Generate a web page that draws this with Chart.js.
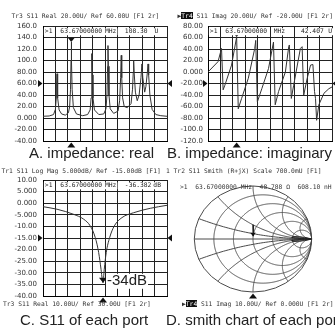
<!DOCTYPE html>
<html><head><meta charset="utf-8">
<script src="https://cdn.jsdelivr.net/npm/chart.js"></script>
<style>
html,body{margin:0;padding:0;background:#fff;width:335px;height:328px;overflow:hidden;position:relative;}
canvas{position:absolute;}
.t{position:absolute;white-space:pre;font-family:"DejaVu Sans Mono",monospace;font-size:6.3px;color:#333;line-height:1;}
.cap{position:absolute;white-space:nowrap;font-family:"Liberation Sans",Arial,sans-serif;font-size:15px;color:#222;line-height:1;}
.hl{background:#111;color:#fff;}
</style></head><body>
<canvas id="cA" width="172" height="150" style="left:0;top:0"></canvas>
<canvas id="cB" width="170" height="150" style="left:165px;top:0"></canvas>
<canvas id="cC" width="172" height="145" style="left:0;top:160px"></canvas>
<canvas id="cD" width="170" height="145" style="left:165px;top:160px"></canvas>

<div class="t" style="left:11.5px;top:12.5px">Tr3 S11 Real 20.00U/ Ref 60.00U [F1 2r]</div>
<div class="t" style="left:177.5px;top:12.5px">▶<span class="hl">Tr4</span> S11 Imag 20.00U/ Ref -20.00U [F1 2r]</div>
<div class="t" style="left:1.5px;top:167.5px">Tr1 S11 Log Mag 5.000dB/ Ref -15.00dB [F1]</div>
<div class="t" style="left:166px;top:167.5px">1 Tr2 S11 Smith (R+jX) Scale 700.0mU [F1]</div>
<div class="t" style="left:180px;top:183.5px">&gt;1  63.67000000 MHz  48.788 Ω  608.10 nH</div>
<div class="t" style="left:3px;top:300.5px">Tr3 S11 Real 10.00U/ Ref 30.00U [F1 2r]</div>
<div class="t" style="left:182px;top:300.5px">▶<span class="hl">Tr4</span> S11 Imag 10.00U/ Ref 0.000U [F1 2r]</div>

<div class="cap" style="left:29px;top:144.6px">A. impedance: real</div>
<div class="cap" style="left:167px;top:144.6px">B. impedance: imaginary</div>
<div class="cap" style="left:20px;top:312.3px">C. S11 of each port</div>
<div class="cap" style="left:166px;top:312.3px">D. smith chart of each port</div>

<script>
// ---------- data ----------
const aFreq = [0,0.5,0.85,1.0,1.07,1.1,1.13,1.16,1.2,1.3,1.5,1.8,2.05,2.15,2.22,2.26,2.28,2.31,2.35,2.45,2.7,3.2,3.6,3.8,3.88,3.92,3.95,3.98,4.03,4.15,4.5,4.9,5.08,5.16,5.21,5.24,5.27,5.32,5.42,5.7,6.05,6.18,6.26,6.31,6.35,6.42,6.55,6.8,7.1,7.22,7.28,7.31,7.35,7.45,7.6,7.75,7.9,7.98,8.05,8.2,8.3,8.42,8.47,8.52,8.62,8.8,9.1,9.5,10];
const aReal = [3,3.5,6,15,35,60,77,60,35,14,7,5,9,20,50,100,132,100,50,18,7,4,6,14,35,75,112,75,35,14,6,7,16,40,90,126,90,40,16,8,12,30,70,109,70,35,20,18,25,50,80,100,80,45,30,40,70,94,70,45,55,80,94,75,40,15,6,4,3];
const aTicks = ['-40.00','-20.00','0.000','20.00','40.00','60.00','80.00','100.0','120.0','140.0','160.0'];

const bFreq = [0,0.81,1.09,1.22,1.36,1.9,2.31,2.44,2.71,3.25,3.77,3.85,3.98,4.34,4.88,5.28,5.42,5.69,6.24,6.51,6.56,6.72,6.91,7.45,7.59,7.72,8.0,8.27,8.46,8.59,8.67,8.76,8.94,9.35,9.75,10];
const bImag = [0,18,41,-31,-23,12,61,-64,-46,-11,41,55,-52,-29,6,52,-57,-34,0,44,47,-46,-23,41,44,-40,-11,12,13,-34,-46,-84,-57,-37,-29,-26];
const bTicks = ['-120.0','-100.0','-80.00','-60.00','-40.00','-20.00','0.000','20.00','40.00','60.00','80.00'];

const cFreq = [0,1.13,2.47,3.28,3.81,4.22,4.49,4.68,4.78,4.84,4.94,5.1,5.37,5.75,6.37,7.31,8.65,10];
const cLogMag = [-1.5,-2.6,-4.8,-6.9,-9.8,-14.9,-21.3,-28.5,-32.8,-34.3,-28.5,-21.3,-14.9,-9.8,-6.2,-4.1,-2.2,-0.9];
const cTicks = ['-40.00','-35.00','-30.00','-25.00','-20.00','-15.00','-10.00','-5.000','0.000','5.000','10.00'];

const dRe = [1.0,0.88,0.7,0.66,0.8,0.97,0.8,0.66,0.7,0.88,1.0];
const dIm = [0,0.03,0.045,0.03,0.012,0,-0.012,-0.03,-0.045,-0.03,0];
const dMarkRe = [0,0.01,0];
const dMarkIm = [0.27,0.15,0.05];
const smithR = [0.2,0.5,1,2,5];
const smithX = [0.2,0.5,1,2,5];

// ---------- helpers ----------
const GRID = '#222';
const TRACE = '#333';
function pts(xs, ys){ return xs.map((x,i)=>({x:x, y:ys[i]})); }
function tri(ctx,x,y,dir,s){
  ctx.beginPath();
  if(dir==='right'){ctx.moveTo(x,y);ctx.lineTo(x-s,y-s*0.8);ctx.lineTo(x-s,y+s*0.8);}
  else if(dir==='left'){ctx.moveTo(x,y);ctx.lineTo(x+s,y-s*0.8);ctx.lineTo(x+s,y+s*0.8);}
  else if(dir==='up'){ctx.moveTo(x,y);ctx.lineTo(x-s*0.8,y+s);ctx.lineTo(x+s*0.8,y+s);}
  else {ctx.moveTo(x,y);ctx.lineTo(x-s*0.8,y-s);ctx.lineTo(x+s*0.8,y-s);}
  ctx.closePath(); ctx.fill();
}
function makeDeco(cfg){
  return {id:'deco', afterDatasetsDraw(chart){
    const ctx=chart.ctx, ca=chart.chartArea, x=chart.scales.x, y=chart.scales.y;
    ctx.save(); ctx.fillStyle='#111';
    if(cfg.ref!==undefined){const py=y.getPixelForValue(cfg.ref); tri(ctx,ca.left-0.5,py,'right',4.5); tri(ctx,ca.right+0.5,py,'left',4.5);}
    if(cfg.mark!==undefined){const px=x.getPixelForValue(cfg.mark); tri(ctx,px,ca.bottom+1.5,'up',5);}
    if(cfg.peak){const px=x.getPixelForValue(cfg.peak[0]), py=y.getPixelForValue(cfg.peak[1]); tri(ctx,px,py,'down',4);}
    if(cfg.box){
      const rowY=ca.top+(ca.bottom-ca.top)/20;
      ctx.font='6.3px "DejaVu Sans Mono"'; ctx.textBaseline='middle';
      cfg.box.forEach(b=>{const px=x.getPixelForValue(b.x); const w=ctx.measureText(b.t).width;
        ctx.fillStyle='#fff'; ctx.fillRect(px-1,rowY-3.5,w+2,7);
        ctx.fillStyle='#222'; ctx.fillText(b.t,px,rowY);});
    }
    if(cfg.note){
      const px=x.getPixelForValue(cfg.note.x), py=y.getPixelForValue(cfg.note.y);
      ctx.fillStyle='#111'; tri(ctx,px,py,'down',5);
      ctx.font='15px "Liberation Sans", Arial, sans-serif'; ctx.textBaseline='middle';
      const w=ctx.measureText(cfg.note.t).width;
      ctx.fillStyle='#fff'; ctx.fillRect(px+3,py-9,w+2,15);
      ctx.fillStyle='#222'; ctx.fillText(cfg.note.t,px+4,py-2);
    }
    ctx.restore();
  }};
}
function rectChart(id, xs, ys, yMin, yMax, step, labels, pad, yPad, cfg, mono){
  return new Chart(document.getElementById(id),{
    type:'line',
    data:{datasets:[{data:pts(xs,ys),borderColor:TRACE,borderWidth:1,pointRadius:0,tension:0,fill:false,
      cubicInterpolationMode: mono?'monotone':'default'}]},
    options:{responsive:false,animation:false,devicePixelRatio:1,
      layout:{padding:pad},
      plugins:{legend:{display:false},tooltip:{enabled:false}},
      scales:{
        x:{type:'linear',min:0,max:10,ticks:{display:false,stepSize:1},
           grid:{color:GRID,lineWidth:1,drawTicks:false},border:{color:'#000',width:1},
           afterFit(s){s.height=0;s.paddingLeft=0;s.paddingRight=0;}},
        y:{type:'linear',min:yMin,max:yMax,
           ticks:{stepSize:step,padding:yPad,color:'#333',font:{family:'DejaVu Sans',size:7},callback:(v,i)=>labels[i]},
           grid:{color:GRID,lineWidth:1,drawTicks:false},border:{color:'#000',width:1},
           afterFit(s){s.width=43;s.paddingTop=0;s.paddingBottom=0;}}
      }},
    plugins:[makeDeco(cfg)]
  });
}

rectChart('cA', aFreq, aReal, -40, 160, 20, aTicks, {left:0,top:26,right:5,bottom:9}, 6,
  {ref:60, mark:2.28, peak:[2.28,132], box:[{x:0.15,t:'>1'},{x:1.4,t:'63.67000000'},{x:5.0,t:'MHz'},{x:6.6,t:'108.30'},{x:9.0,t:'U'}]});
rectChart('cB', bFreq, bImag, -120, 80, 20, bTicks, {left:0,top:26,right:3,bottom:9}, 5,
  {ref:-20, mark:2.31, peak:[2.31,61], box:[{x:0.15,t:'>1'},{x:1.4,t:'63.67000000'},{x:5.3,t:'MHz'},{x:7.5,t:'42.407'},{x:9.7,t:'U'}]});
rectChart('cC', cFreq, cLogMag, -40, 10, 5, cTicks, {left:0,top:20,right:5,bottom:9}, 6,
  {ref:-15, mark:4.84, note:{x:4.84,y:-34.3,t:'-34dB'}, box:[{x:0.15,t:'>1'},{x:1.4,t:'63.67000000'},{x:5.0,t:'MHz'},{x:6.6,t:'-36.382'},{x:8.9,t:'dB'}]}, true);

// Smith chart
const smithPlugin = {id:'smith',
  beforeDatasetsDraw(chart){
    const ctx=chart.ctx, x=chart.scales.x, y=chart.scales.y;
    const P=(u,v)=>[x.getPixelForValue(u),y.getPixelForValue(v)];
    const cx=x.getPixelForValue(0), cy=y.getPixelForValue(0);
    const rx=x.getPixelForValue(1)-cx, ry=cy-y.getPixelForValue(1);
    ctx.save(); ctx.strokeStyle='#4a4a4a'; ctx.lineWidth=1;
    ctx.beginPath(); ctx.ellipse(cx,cy,rx,ry,0,0,2*Math.PI); ctx.stroke();
    ctx.clip();
    function circ(u0,v0,r){ctx.beginPath();const n=720;for(let k=0;k<=n;k++){const a=k/n*2*Math.PI;const p=P(u0+r*Math.cos(a),v0+r*Math.sin(a));k?ctx.lineTo(p[0],p[1]):ctx.moveTo(p[0],p[1]);}ctx.stroke();}
    smithR.forEach(r=>circ(r/(1+r),0,1/(1+r)));
    smithX.forEach(v=>{circ(1,1/v,1/v);circ(1,-1/v,1/v);});
    ctx.beginPath(); const l=P(-1,0), rr=P(1,0); ctx.moveTo(l[0],l[1]); ctx.lineTo(rr[0],rr[1]); ctx.stroke();
    ctx.restore();
  },
  afterDatasetsDraw(chart){
    const ctx=chart.ctx, x=chart.scales.x, y=chart.scales.y;
    ctx.save(); ctx.fillStyle='#111';
    tri(ctx,x.getPixelForValue(0),y.getPixelForValue(-1)+1.5,'up',5);
    tri(ctx,x.getPixelForValue(dMarkRe[2]),y.getPixelForValue(dMarkIm[2]),'down',3.5);
    ctx.restore();
  }};
new Chart(document.getElementById('cD'),{
  type:'line',
  data:{datasets:[
    {data:pts(dRe,dIm),borderColor:'#222',borderWidth:1,pointRadius:0,tension:0.3,fill:false},
    {data:pts(dMarkRe,dMarkIm),borderColor:'#222',borderWidth:1.5,pointRadius:0,tension:0,fill:false}
  ]},
  options:{responsive:false,animation:false,devicePixelRatio:1,
    layout:{padding:{left:29.3,right:23.3,top:26,bottom:13}},
    plugins:{legend:{display:false},tooltip:{enabled:false}},
    scales:{x:{type:'linear',min:-1,max:1,display:false},y:{type:'linear',min:-1,max:1,display:false}}},
  plugins:[smithPlugin]
});
</script>
</body></html>
